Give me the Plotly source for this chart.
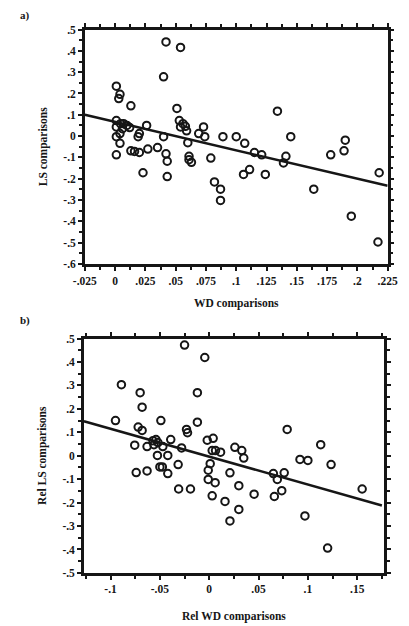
import plotly.graph_objects as go

# ---------------- Panel a data ----------------
wd_a = [0.042, 0.054, 0.040, 0.001, 0.004, 0.003, 0.013, 0.051, 0.134,
        0.001, 0.0045, 0.007, 0.0097, 0.001, 0.006, 0.004, 0.001, 0.004,
        0.020, 0.019, 0.026, 0.001, 0.013, 0.016, 0.020, 0.027, 0.035,
        0.040, 0.053, 0.056, 0.058, 0.054, 0.059, 0.060, 0.069, 0.074,
        0.073, 0.089, 0.100, 0.107, 0.042, 0.043, 0.023, 0.043, 0.061,
        0.061, 0.063, 0.079, 0.082, 0.087, 0.087, 0.106, 0.111, 0.124,
        0.115, 0.121, 0.139, 0.141, 0.145, 0.164, 0.178, 0.189, 0.190,
        0.195, 0.217, 0.218, 0.012]
ls_a = [0.442, 0.416, 0.278, 0.234, 0.196, 0.176, 0.142, 0.130, 0.117,
        0.073, 0.058, 0.058, 0.050, 0.043, 0.035, 0.012, -0.003, -0.034,
        0.012, -0.003, 0.050, -0.088, -0.069, -0.072, -0.077, -0.061, -0.054,
        -0.003, 0.073, 0.058, 0.046, 0.043, 0.025, -0.031, 0.012, -0.003,
        0.043, -0.003, -0.003, -0.034, -0.083, -0.118, -0.172, -0.190, -0.095,
        -0.111, -0.123, -0.103, -0.215, -0.249, -0.302, -0.180, -0.157, -0.180,
        -0.077, -0.088, -0.126, -0.095, -0.003, -0.249, -0.088, -0.069, -0.019,
        -0.376, -0.497, -0.172, 0.040]
fit_a = [0.0667, -1.333]   # intercept, slope

x_ticks_a = [-0.025, 0, 0.025, 0.05, 0.075, 0.1, 0.125, 0.15, 0.175, 0.2, 0.225]
x_labels_a = ["-.025", "0", ".025", ".05", ".075", ".1", ".125", ".15", ".175", ".2", ".225"]
y_ticks_a = [-0.6, -0.5, -0.4, -0.3, -0.2, -0.1, 0, 0.1, 0.2, 0.3, 0.4, 0.5]
y_labels_a = ["-.6", "-.5", "-.4", "-.3", "-.2", "-.1", "0", ".1", ".2", ".3", ".4", ".5"]

# ---------------- Panel b data ----------------
wd_b = [-0.025, -0.0045, -0.089, -0.070, -0.012, -0.068, -0.095, -0.049, -0.012,
        -0.023, -0.022, 0.079, -0.072, -0.068, -0.0755, -0.063, -0.057, -0.054,
        -0.056, -0.052, -0.039, -0.047, -0.0525, -0.042, -0.028, -0.002, 0.004,
        0.003, 0.0064, 0.0115, 0.026, 0.033, 0.035, 0.092, 0.100, 0.113,
        0.1235, -0.0315, -0.050, -0.0475, -0.074, -0.063, -0.042, -0.031, -0.019,
        0.001, -0.001, -0.001, 0.006, 0.003, 0.021, 0.030, 0.016, 0.030,
        0.021, 0.0455, 0.065, 0.069, 0.076, 0.066, 0.0735, 0.097, 0.120, 0.155]
ls_b = [0.472, 0.419, 0.303, 0.269, 0.269, 0.207, 0.150, 0.150, 0.143,
        0.112, 0.098, 0.112, 0.122, 0.108, 0.045, 0.039, 0.064, 0.069,
        0.047, 0.056, 0.069, 0.039, 0.001, 0.001, 0.033, 0.066, 0.074,
        0.022, 0.022, 0.015, 0.036, 0.022, -0.010, -0.016, -0.020, 0.047,
        -0.038, -0.038, -0.048, -0.048, -0.072, -0.065, -0.076, -0.142, -0.142,
        -0.034, -0.062, -0.101, -0.115, -0.171, -0.073, -0.128, -0.195, -0.229,
        -0.278, -0.164, -0.076, -0.101, -0.073, -0.174, -0.149, -0.257, -0.394, -0.142]
fit_b = [-0.004, -1.19]

x_ticks_b = [-0.1, -0.05, 0, 0.05, 0.1, 0.15]
x_labels_b = ["-.1", "-.05", "0", ".05", ".1", ".15"]
y_ticks_b = [-0.5, -0.4, -0.3, -0.2, -0.1, 0, 0.1, 0.2, 0.3, 0.4, 0.5]
y_labels_b = ["-.5", "-.4", "-.3", "-.2", "-.1", "0", ".1", ".2", ".3", ".4", ".5"]

xrange_a = [-0.025, 0.225]
yrange_a = [-0.6, 0.5]
xrange_b = [-0.127, 0.177]
yrange_b = [-0.5, 0.5]
line_end_b = 0.175

W, H = 409, 626
FONT = "Liberation Serif"
INK = "#161616"

fig = go.Figure()

marker = dict(symbol="circle-open", size=7.5, color=INK, line=dict(width=2, color=INK))

fig.add_trace(go.Scatter(x=wd_a, y=ls_a, mode="markers", marker=marker,
                         xaxis="x", yaxis="y", showlegend=False))
fig.add_trace(go.Scatter(x=xrange_a, y=[fit_a[0] + fit_a[1] * v for v in xrange_a],
                         mode="lines", line=dict(color=INK, width=2.5),
                         xaxis="x", yaxis="y", showlegend=False))

fig.add_trace(go.Scatter(x=wd_b, y=ls_b, mode="markers", marker=marker,
                         xaxis="x2", yaxis="y2", showlegend=False))
xs_b = [xrange_b[0], line_end_b]
fig.add_trace(go.Scatter(x=xs_b, y=[fit_b[0] + fit_b[1] * v for v in xs_b],
                         mode="lines", line=dict(color=INK, width=2.5),
                         xaxis="x2", yaxis="y2", showlegend=False))


def px_dom(a, b, total):
    return [a / total, b / total]


def ydom(top, bottom):
    return [1 - bottom / H, 1 - top / H]


tickfont = dict(family=FONT, size=11.5, color=INK, weight="bold")
titlefont = dict(family=FONT, size=11.5, color=INK)

common = dict(showgrid=False, zeroline=False, showline=True, linecolor=INK, linewidth=2.5,
              mirror="ticks", ticks="outside", ticklen=4, tickwidth=1.5, tickcolor=INK,
              tickfont=tickfont)


def minor(d):
    return dict(dtick=d, tick0=0, ticks="outside", ticklen=3, tickcolor=INK, tickwidth=1.5)


fig.update_layout(
    width=W, height=H, margin=dict(l=0, r=0, t=0, b=0),
    paper_bgcolor="white", plot_bgcolor="white",
    font=dict(family=FONT, color=INK),
    xaxis=dict(domain=px_dom(77, 397, W), range=xrange_a, anchor="y",
               tickvals=x_ticks_a, ticktext=x_labels_a, minor=minor(0.0125),
               title=dict(text="<b>WD comparisons</b>", font=titlefont, standoff=14), **common),
    yaxis=dict(domain=ydom(24, 263), range=yrange_a, anchor="x",
               tickvals=y_ticks_a, ticktext=y_labels_a, minor=minor(0.05),
               title=dict(text="<b>LS comparisons</b>", font=titlefont, standoff=14), **common),
    xaxis2=dict(domain=px_dom(76, 393, W), range=xrange_b, anchor="y2",
                tickvals=x_ticks_b, ticktext=x_labels_b, minor=minor(0.025),
                title=dict(text="<b>Rel WD comparisons</b>", font=titlefont, standoff=18), **common),
    yaxis2=dict(domain=ydom(339, 578), range=yrange_b, anchor="x2",
                tickvals=y_ticks_b, ticktext=y_labels_b, minor=minor(0.05),
                title=dict(text="<b>Rel LS comparisons</b>", font=titlefont, standoff=14), **common),
    annotations=[
        dict(text="<b>a)</b>", x=6 / W, y=1 - 10 / H, xref="paper", yref="paper",
             xanchor="left", yanchor="middle", showarrow=False, font=dict(family=FONT, size=11, color=INK)),
        dict(text="<b>b)</b>", x=6 / W, y=1 - 321 / H, xref="paper", yref="paper",
             xanchor="left", yanchor="middle", showarrow=False, font=dict(family=FONT, size=11, color=INK)),
    ],
)

fig.write_html("out.html", config={"displayModeBar": False},
               post_script="document.body.style.margin='0';")
